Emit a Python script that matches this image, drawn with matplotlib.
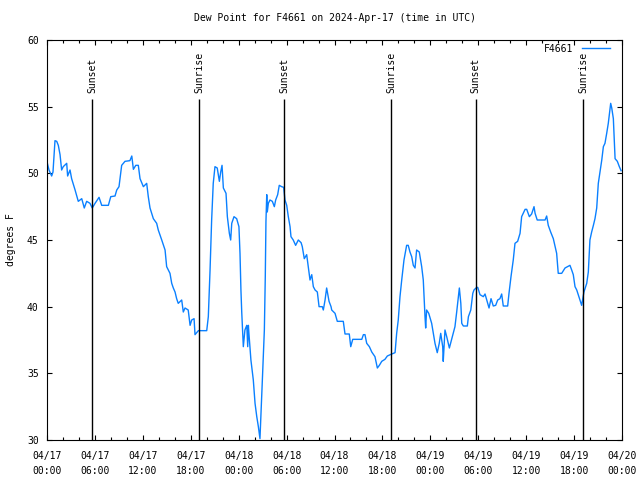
import numpy as np
import matplotlib
matplotlib.use("Agg")
import matplotlib.pyplot as plt
import matplotlib.dates as mdates

# hours after 2024-04-17 00:00 UTC, dew point in degrees F
hours = [0.0, 0.25, 0.59, 0.75, 1.0, 1.21, 1.41, 1.63, 1.84, 2.04, 2.47, 2.59, 2.88, 3.09,
         3.51, 3.92, 4.35, 4.67, 4.97, 5.38, 5.67, 6.01, 6.51, 6.85, 7.68, 7.98, 8.51, 8.73,
         9.02, 9.35, 9.77, 10.39, 10.61, 10.81, 11.11, 11.43, 11.65, 12.06, 12.48, 12.68,
         12.9, 13.31, 13.74, 13.94, 14.36, 14.78, 14.99, 15.4, 15.61, 15.82, 16.03, 16.24,
         16.44, 16.87, 17.07, 17.28, 17.69, 17.91, 18.12, 18.41, 18.53, 18.95, 20.0, 20.2,
         20.41, 20.62, 20.82, 21.04, 21.32, 21.58, 21.75, 21.91, 22.08, 22.41, 22.58, 22.83,
         23.0, 23.13, 23.42, 23.75, 24.04, 24.17, 24.29, 24.38, 24.58, 24.79, 25.01, 25.13,
         25.21, 25.29, 25.54, 25.83, 26.05, 26.26, 26.46, 26.67, 26.8, 26.96, 27.21, 27.34,
         27.42, 27.51, 27.59, 27.71, 27.92, 28.21, 28.46, 28.64, 28.89, 29.09, 29.39, 29.64,
         29.8, 30.02, 30.22, 30.43, 30.55, 30.84, 31.14, 31.47, 31.81, 31.97, 32.22, 32.52,
         32.72, 32.93, 33.15, 33.35, 33.56, 33.85, 34.06, 34.47, 34.6, 34.81, 35.02, 35.31,
         35.56, 35.65, 36.06, 36.35, 37.1, 37.32, 37.85, 38.03, 38.28, 39.41, 39.61, 39.82,
         40.03, 40.36, 40.66, 41.07, 41.36, 41.61, 41.91, 42.32, 42.61, 43.16, 43.58, 43.79,
         43.99, 44.2, 44.42, 44.7, 45.04, 45.24, 45.45, 45.66, 45.86, 46.08, 46.29, 46.62,
         46.92, 47.12, 47.33, 47.42, 47.54, 47.8, 48.17, 48.59, 48.87, 49.12, 49.3, 49.55,
         49.62, 49.84, 50.05, 50.38, 50.68, 51.09, 51.3, 51.63, 51.81, 51.93, 52.13, 52.63,
         52.76, 53.06, 53.31, 53.47, 53.72, 53.93, 54.22, 54.63, 54.85, 55.06, 55.35, 55.6,
         55.89, 56.19, 56.44, 56.72, 56.93, 57.13, 57.69, 57.85, 58.1, 58.39, 58.6, 58.94,
         59.23, 59.44, 59.86, 60.07, 60.4, 60.69, 60.98, 61.11, 61.39, 62.36, 62.57, 62.77,
         63.07, 63.4, 63.82, 64.02, 64.45, 64.86, 65.49, 65.7, 65.9, 66.12, 66.33, 66.74,
         66.95, 67.08, 67.24, 67.58, 67.78, 67.99, 68.2, 68.41, 68.62, 68.83, 69.03, 69.25,
         69.46, 69.66, 69.87, 70.09, 70.29, 70.59, 70.71, 70.91, 71.04, 71.13, 71.42, 71.67,
         71.88]
dewpt = [50.87, 50.25, 49.8, 50.1, 52.45, 52.4, 52.1, 51.4, 50.25, 50.5, 50.75, 49.8, 50.25, 49.6,
         48.75, 47.9, 48.1, 47.4, 47.9, 47.75, 47.4, 47.75, 48.2, 47.6, 47.6, 48.25, 48.3, 48.75,
         49.0, 50.6, 50.9, 50.95, 51.3, 50.3, 50.6, 50.6, 49.6, 49.0, 49.25, 48.25,
         47.4, 46.6, 46.25, 45.75, 45.0, 44.25, 43.0, 42.5, 41.75, 41.4, 41.1, 40.6,
         40.25, 40.5, 39.6, 39.9, 39.75, 38.6, 39.0, 39.1, 37.9, 38.2, 38.2, 39.25,
         42.75, 46.5, 49.25, 50.5, 50.4, 49.4, 50.1, 50.6, 48.9, 48.5, 46.75, 45.5,
         45.0, 46.25, 46.75, 46.6, 46.0, 44.0, 41.25, 39.6, 37.0, 38.25, 38.6, 37.0,
         38.6, 38.0, 36.0, 34.5, 32.75, 31.75, 31.0, 30.1, 32.0, 34.5, 38.25, 42.25,
         46.4, 48.4, 47.1, 47.75, 48.0, 47.9, 47.5, 48.0, 48.4, 49.1, 49.0, 48.95,
         48.0, 47.6, 46.75, 46.0, 45.25, 45.0, 44.6, 45.0, 44.8, 44.5, 43.6, 43.9,
         43.0, 42.0, 42.4, 41.5, 41.25, 41.1, 40.0, 40.0, 39.75, 40.5, 41.4, 40.4,
         40.0, 39.75, 39.5, 38.9, 38.9, 37.95, 37.95, 37.0, 37.55, 37.55, 37.9, 37.9,
         37.25, 37.0, 36.6, 36.25, 35.4, 35.6, 35.9, 36.05, 36.3, 36.45, 36.55, 38.0,
         39.0, 40.75, 42.0, 43.5, 44.6, 44.6, 44.1, 43.75, 43.1, 42.9, 44.25, 44.1,
         43.0, 42.0, 39.25, 38.4, 39.75, 39.5, 38.75, 37.25, 36.55, 37.25, 38.0, 37.0,
         35.9, 38.25, 37.75, 36.9, 37.6, 38.5, 39.6, 41.4, 40.25, 38.75, 38.55, 38.55,
         39.25, 39.75, 41.0, 41.25, 41.4, 41.45, 40.9, 40.75, 40.95, 40.5, 39.9, 40.6,
         40.05, 40.1, 40.5, 40.6, 40.95, 40.05, 40.05, 41.0, 42.25, 43.5, 44.75, 44.9,
         45.5, 46.75, 47.3, 47.3, 46.75, 46.95, 47.5, 47.0, 46.5, 46.5, 46.8, 46.1,
         45.6, 45.1, 44.0, 42.5, 42.5, 42.9, 43.1, 42.75, 42.4, 41.5, 41.25, 40.5,
         40.1, 40.55, 41.1, 41.75, 42.6, 45.0, 45.6, 46.1, 46.6, 47.4, 49.25, 50.1,
         51.0, 52.0, 52.25, 53.0, 53.75, 55.25, 54.9, 54.1, 52.5, 51.1, 50.9, 50.5,
         50.2]

sun_hours = [5.68, 19.07, 29.72, 43.12, 53.70, 67.16]
sun_labels = ["Sunset", "Sunrise", "Sunset", "Sunrise", "Sunset", "Sunrise"]
sun_line_top = 55.55

start = np.datetime64("2024-04-17T00:00")
def to_time(h):
    return start + np.round(np.asarray(h) * 60).astype("timedelta64[m]")

t = to_time(hours)
ts = to_time(sun_hours)

plt.rcParams["font.family"] = ["DejaVu Sans Mono"]
plt.rcParams["font.size"] = 7

fig = plt.figure(figsize=(6.4, 4.8), dpi=100)
ax = fig.add_axes([47 / 640, 40 / 480, 575 / 640, 400 / 480])

ax.plot(t, dewpt, color="#0a80ff", lw=1, label="F4661")
ax.vlines(ts, 30, sun_line_top, color="black", lw=1)
for x, lab in zip(ts, sun_labels):
    ax.text(x, 56.0, lab, rotation=90, ha="center", va="bottom", fontsize=7)

ax.set_xlim(start, start + np.timedelta64(72, "h"))
ax.set_ylim(30, 60)
ax.set_yticks(range(30, 61, 5))
ax.xaxis.set_major_locator(mdates.HourLocator(byhour=range(0, 24, 6)))
ax.xaxis.set_minor_locator(mdates.HourLocator(byhour=range(0, 24, 2)))
ax.xaxis.set_major_formatter(mdates.DateFormatter("%m/%d\n%H:%M"))
for lab in ax.get_xticklabels():
    lab.set_linespacing(1.6)

ax.tick_params(which="both", direction="in", top=True, right=True, width=0.8)
ax.tick_params(which="major", length=3.6)
ax.tick_params(which="minor", length=2.2)
ax.tick_params(axis="x", pad=8)
ax.tick_params(axis="y", pad=6)
for s in ax.spines.values():
    s.set_linewidth(0.8)

ax.set_ylabel("degrees F", labelpad=8)
ax.set_title("Dew Point for F4661 on 2024-Apr-17 (time in UTC)", pad=14, fontsize=7)
ax.legend(loc="upper right", bbox_to_anchor=(0.986, 1.0), frameon=False, markerfirst=False,
          handlelength=2.9, handletextpad=0.9, borderaxespad=0, fontsize=7)

fig.savefig("out.png", dpi=100)
